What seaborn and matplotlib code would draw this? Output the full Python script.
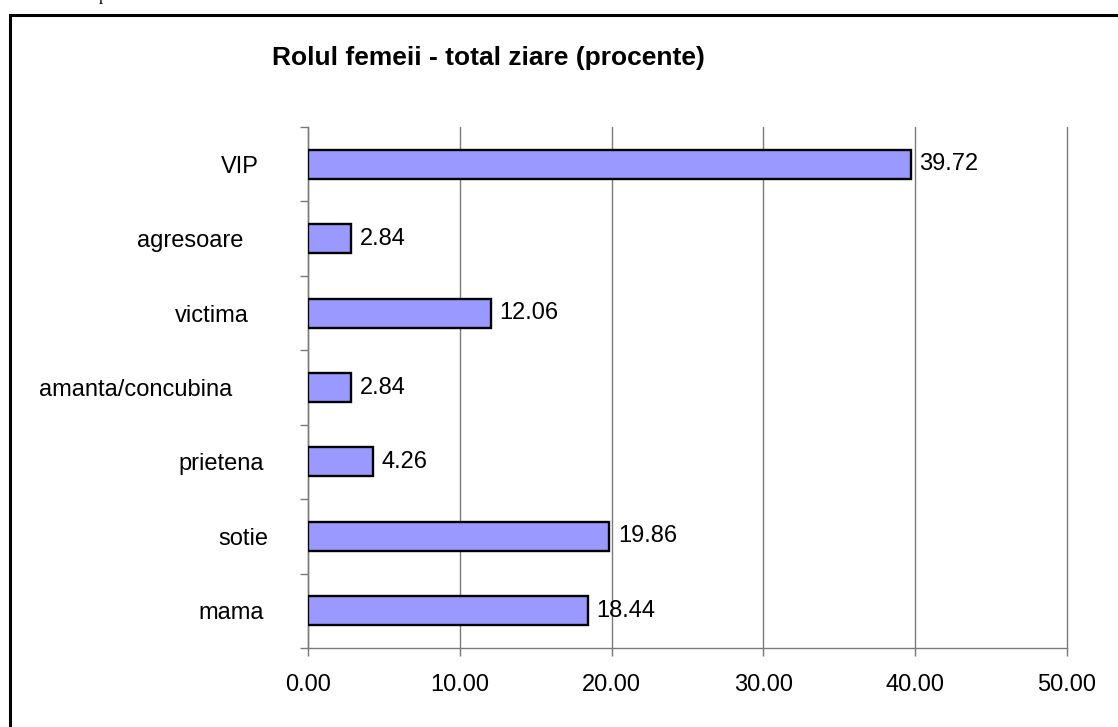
import matplotlib
matplotlib.use("Agg")
import matplotlib.pyplot as plt
from matplotlib.patches import Rectangle
from matplotlib.ticker import FixedLocator, FormatStrFormatter
from matplotlib.transforms import ScaledTranslation
import seaborn as sns
import pandas as pd

# Data: share of each role of women across all newspapers (percent)
categories = ["VIP", "agresoare", "victima", "amanta/concubina", "prietena", "sotie", "mama"]
values = [39.72, 2.84, 12.06, 2.84, 4.26, 19.86, 18.44]
x_ticks = [0, 10, 20, 30, 40, 50]
title = "Rolul femeii - total ziare (procente)"

sns.set_style("white")
plt.rcParams["font.family"] = ["Liberation Sans", "DejaVu Sans"]
plt.rcParams["text.color"] = "black"
plt.rcParams["xtick.labelcolor"] = "black"
plt.rcParams["ytick.labelcolor"] = "black"

FS = 17

df = pd.DataFrame({"rol": categories, "procent": values})

fig = plt.figure(figsize=(11.18, 7.27), dpi=100)
ax = fig.add_axes([308 / 1118, 1 - 648 / 727, (1067 - 308) / 1118, (648 - 127) / 727])

sns.barplot(data=df, x="procent", y="rol", orient="h", color="#9999FF",
            saturation=1, edgecolor="black", linewidth=1.7, width=0.39, ax=ax,
            zorder=3)

ax.set_xlim(0, 50)
ax.set_ylim(len(categories) - 0.5, -0.5)
ax.set_xlabel("")
ax.set_ylabel("")

# value labels at the end of each bar
for i, v in enumerate(values):
    ax.text(v + 0.55, i, f"{v:.2f}", va="center", ha="left", fontsize=FS,
            color="black", zorder=4)

# x axis: ticks, format and vertical gridlines
ax.xaxis.set_major_locator(FixedLocator(x_ticks))
ax.xaxis.set_major_formatter(FormatStrFormatter("%.2f"))
ax.grid(axis="x", color="#7a7a7a", linewidth=1.0, zorder=0)
ax.grid(axis="y", visible=False)
for gl in ax.get_xgridlines():
    gl.set_clip_on(False)
ax.tick_params(axis="x", which="major", direction="out", length=5.5, width=1.0,
               color="#7a7a7a", labelsize=FS, pad=13, bottom=True)

# y axis: category separators as outward minor ticks
ax.yaxis.set_minor_locator(FixedLocator([i - 0.5 for i in range(len(categories) + 1)]))
ax.tick_params(axis="y", which="major", length=0, labelsize=FS, pad=42)
ax.tick_params(axis="y", which="minor", direction="out", length=5.5, width=1.0,
               color="#7a7a7a", left=True)

# category labels sit at slightly different distances from the axis
label_shift_px = [9, -6, -1, -17, 14, 19, 14]
for lab, dx in zip(ax.get_yticklabels(), label_shift_px):
    lab.set_transform(lab.get_transform() + ScaledTranslation(dx / 100, 0, fig.dpi_scale_trans))

for side in ("top", "right"):
    ax.spines[side].set_visible(False)
for side in ("left", "bottom"):
    ax.spines[side].set_color("#7a7a7a")
    ax.spines[side].set_linewidth(1.0)

fig.text(488 / 1118, 1 - 58 / 727, title, ha="center", va="center",
         fontsize=19, fontweight="bold", color="black")

# page frame around the chart
fig.add_artist(Rectangle((9.5 / 1118, -0.05), 1.2, 1 - 14.5 / 727 + 0.05,
                         transform=fig.transFigure, fill=False,
                         edgecolor="black", linewidth=2.2))
fig.text(103 / 1118, 1.0, "p", ha="center", va="baseline", fontsize=12,
         family="Liberation Serif", color="black")

fig.savefig("out.png", dpi=100)
